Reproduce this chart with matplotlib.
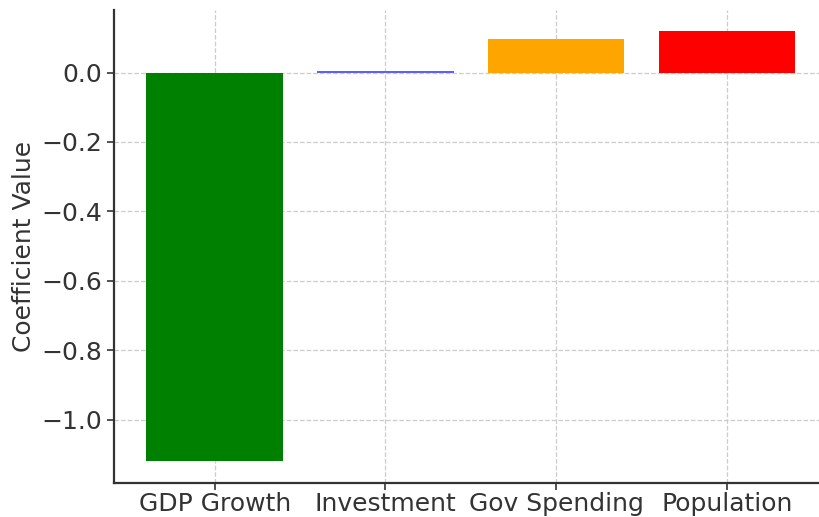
import matplotlib
matplotlib.use("Agg")
import matplotlib.pyplot as plt

categories = ["GDP Growth", "Investment", "Gov Spending", "Population"]
coefficients = [-1.121, 0.005, 0.098, 0.1185]
colors = ["green", "#5f5fff", "orange", "red"]

fig = plt.figure(figsize=(8.19, 5.17), dpi=100)
ax = fig.add_axes([0.1392, 0.0658, 0.8713, 0.9149])

ax.bar(categories, coefficients, color=colors, width=0.8, zorder=2)
ax.set_ylabel("Coefficient Value", fontsize=18, color="#333333")
ax.tick_params(axis="both", labelsize=18, colors="#333333", length=5, width=1.2)
ax.tick_params(axis="x", pad=1.5)
ax.grid(True, linestyle="--", color="#cccccc", linewidth=0.9, zorder=0)

for side in ["top", "right"]:
    ax.spines[side].set_visible(False)
for side in ["left", "bottom"]:
    ax.spines[side].set_color("#333333")
    ax.spines[side].set_linewidth(1.6)

fig.savefig("out.png", dpi=100)
